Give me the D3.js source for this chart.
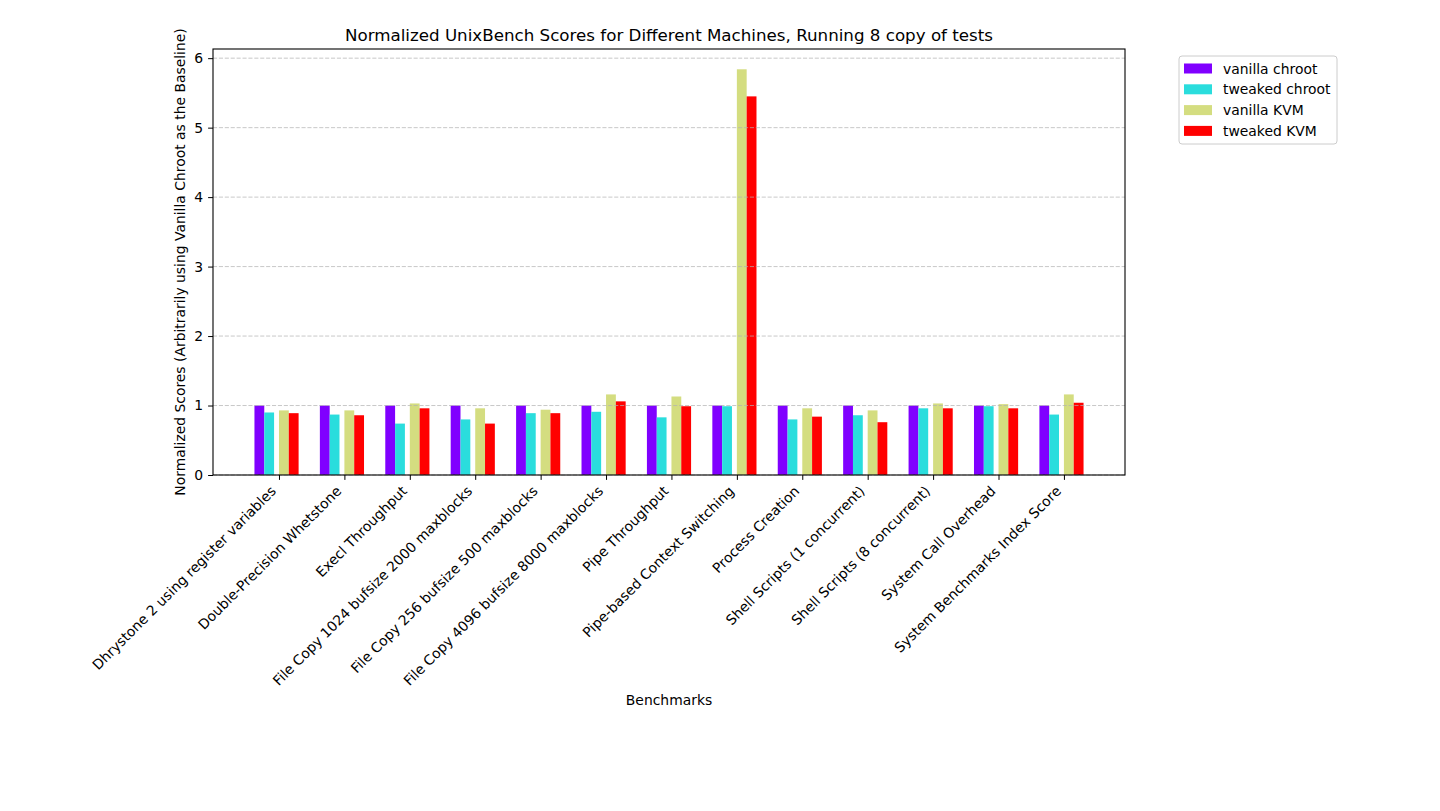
<!DOCTYPE html>
<html>
<head>
<meta charset="utf-8">
<script src="https://cdn.jsdelivr.net/npm/d3@7"></script>
<style>
  body { margin: 0; background: #fff; }
  text { font-family: "DejaVu Sans", sans-serif; fill: #000; }
</style>
</head>
<body>
<svg id="chart" width="1440" height="811"></svg>
<script>
// benchmark names on the x axis
var benchmarks = [
    "Dhrystone 2 using register variables",
    "Double-Precision Whetstone",
    "Execl Throughput",
    "File Copy 1024 bufsize 2000 maxblocks",
    "File Copy 256 bufsize 500 maxblocks",
    "File Copy 4096 bufsize 8000 maxblocks",
    "Pipe Throughput",
    "Pipe-based Context Switching",
    "Process Creation",
    "Shell Scripts (1 concurrent)",
    "Shell Scripts (8 concurrent)",
    "System Call Overhead",
    "System Benchmarks Index Score"
];

var series_names = ["vanilla chroot", "tweaked chroot", "vanilla KVM", "tweaked KVM"];

var vanilla_chroot = [1, 1, 1, 1, 1, 1, 1, 1, 1, 1, 1, 1, 1];
var tweaked_chroot = [0.90, 0.87, 0.74, 0.80, 0.89, 0.91, 0.83, 0.99, 0.80, 0.86, 0.96, 0.99, 0.87];
var vanilla_kvm    = [0.93, 0.93, 1.03, 0.96, 0.94, 1.16, 1.13, 5.84, 0.96, 0.93, 1.03, 1.02, 1.16];
var tweaked_kvm    = [0.89, 0.86, 0.96, 0.74, 0.89, 1.06, 0.99, 5.45, 0.84, 0.76, 0.96, 0.96, 1.04];

var y_ticks = [0, 1, 2, 3, 4, 5, 6];

var all_series = [vanilla_chroot, tweaked_chroot, vanilla_kvm, tweaked_kvm];
var colours = ["#8000ff", "#2adddd", "#d4dd80", "#ff0000"];
// bar left edges relative to the benchmark index (bar width 0.15)
var bar_width = 0.15,
    offsets = [-0.375, -0.225, 0, 0.15];

var margins = {left: 213, right: 1125, top: 49, bottom: 475};

var svg = d3.select("#chart");

// matplotlib style 5% margins on x
var x_min = d3.min(offsets), x_max = benchmarks.length - 1 + d3.max(offsets) + bar_width;
var x_pad = (x_max - x_min) * 0.05;
var x_scale = d3.scaleLinear()
    .domain([x_min - x_pad, x_max + x_pad])
    .range([margins.left, margins.right]);

var y_max = d3.max(all_series, s => d3.max(s)) * 1.05;
var y_scale = d3.scaleLinear()
    .domain([0, y_max])
    .range([margins.bottom, margins.top]);

//bars
all_series.forEach(function(values, s){
    svg.append("g")
        .selectAll("rect")
        .data(values)
        .join("rect")
        .attr("x", (d, i) => x_scale(i + offsets[s]))
        .attr("width", x_scale(bar_width) - x_scale(0))
        .attr("y", d => y_scale(d))
        .attr("height", d => y_scale(0) - y_scale(d))
        .attr("fill", colours[s]);
});

//grid over bars
svg.append("g")
    .selectAll("line")
    .data(y_ticks)
    .join("line")
    .attr("x1", margins.left)
    .attr("x2", margins.right)
    .attr("y1", d => y_scale(d))
    .attr("y2", d => y_scale(d))
    .attr("stroke", "#b0b0b0")
    .attr("stroke-opacity", 0.7)
    .attr("stroke-width", 1)
    .attr("stroke-dasharray", "4.1,1.8");

//axes frame
svg.append("rect")
    .attr("x", margins.left)
    .attr("y", margins.top)
    .attr("width", margins.right - margins.left)
    .attr("height", margins.bottom - margins.top)
    .attr("fill", "none")
    .attr("stroke", "#000")
    .attr("stroke-width", 1.1);

//y axis
var y_axis = d3.axisLeft(y_scale)
    .tickValues(y_ticks)
    .tickSize(4.9)
    .tickPadding(4.9)
    .tickFormat(d3.format("d"));

svg.append("g")
    .attr("transform", "translate(" + margins.left + ",0)")
    .call(y_axis)
    .call(g => g.select(".domain").remove())
    .call(g => g.selectAll("text").style("font-size", "13.9px").style("font-family", "DejaVu Sans"));

//x axis
var x_axis = d3.axisBottom(x_scale)
    .tickValues(d3.range(benchmarks.length))
    .tickSize(4.9)
    .tickFormat("");

svg.append("g")
    .attr("transform", "translate(0," + margins.bottom + ")")
    .call(x_axis)
    .call(g => g.select(".domain").remove());

svg.append("g")
    .selectAll("text")
    .data(benchmarks)
    .join("text")
    .attr("transform", (d, i) => "translate(" + (x_scale(i) - 2) + ",492) rotate(-45)")
    .attr("text-anchor", "end")
    .style("font-size", "13.9px")
    .text(d => d);

//labels
svg.append("text")
    .attr("x", (margins.left + margins.right) / 2)
    .attr("y", 41)
    .attr("text-anchor", "middle")
    .style("font-size", "16.7px")
    .text("Normalized UnixBench Scores for Different Machines, Running 8 copy of tests");

svg.append("text")
    .attr("x", (margins.left + margins.right) / 2)
    .attr("y", 705)
    .attr("text-anchor", "middle")
    .style("font-size", "13.9px")
    .text("Benchmarks");

svg.append("text")
    .attr("transform", "translate(185," + ((margins.top + margins.bottom) / 2) + ") rotate(-90)")
    .attr("text-anchor", "middle")
    .style("font-size", "13.9px")
    .text("Normalized Scores (Arbitrarily using Vanilla Chroot as the Baseline)");

//legend
var legend = svg.append("g").attr("transform", "translate(1179,56)");

legend.append("rect")
    .attr("width", 158)
    .attr("height", 88)
    .attr("rx", 3)
    .attr("fill", "#fff")
    .attr("stroke", "#cccccc")
    .attr("stroke-width", 1);

var legend_item = legend.selectAll(".legend_item")
    .data(series_names)
    .join("g")
    .attr("class", "legend_item")
    .attr("transform", (d, i) => "translate(0," + (12.5 + i * 20.8) + ")");

legend_item.append("rect")
    .attr("x", 5)
    .attr("y", -5)
    .attr("width", 28)
    .attr("height", 10)
    .attr("fill", (d, i) => colours[i]);

legend_item.append("text")
    .attr("x", 44)
    .attr("y", 5)
    .style("font-size", "13.9px")
    .text(d => d);
</script>
</body>
</html>
